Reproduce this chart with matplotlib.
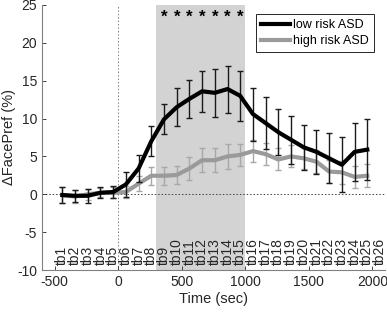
import numpy as np
import matplotlib.pyplot as plt
from matplotlib.lines import Line2D

plt.rcParams['font.family'] = ['Liberation Sans', 'DejaVu Sans']
plt.rcParams['axes.unicode_minus'] = False

# time bin centres (sec) and labels
bin_times = np.arange(-440, 2061, 100)
bin_labels = [f"tb{i}" for i in range(1, 27)]

# face preference change (%), bins tb1..tb25
low_risk = [-0.1, -0.2, -0.2, 0.2, 0.3, 1.3, 3.4, 7.0, 9.9, 11.5, 12.6, 13.6, 13.4, 13.9, 13.0,
            10.6, 9.4, 8.2, 7.2, 6.2, 5.6, 4.75, 3.9, 5.6, 5.9]
low_err = [1.0, 0.8, 0.9, 0.7, 0.8, 1.6, 1.8, 2.0, 2.0, 2.5, 2.5, 2.7, 3.2, 3.1, 3.3,
           3.5, 3.4, 3.0, 3.2, 3.0, 2.9, 3.3, 3.6, 3.8, 4.0]
high_risk = [-0.1, -0.3, 0.0, 0.2, 0.2, 0.3, 1.4, 2.45, 2.45, 2.55, 3.4, 4.5, 4.5, 5.0, 5.2,
             5.7, 5.3, 4.6, 5.0, 4.75, 4.3, 3.0, 2.9, 2.3, 2.45]
high_err = [1.0, 0.9, 0.7, 0.6, 0.7, 0.8, 1.0, 1.2, 1.2, 1.2, 1.5, 1.6, 1.6, 1.6, 1.5,
            1.45, 1.45, 1.45, 1.45, 1.4, 1.5, 1.5, 1.5, 1.5, 1.5]

# significant bins (tb9..tb15) and test window
sig_bins = [9, 10, 11, 12, 13, 14, 15]
window = (300, 1000)

n = len(low_risk)
t = bin_times[:n]

fig = plt.figure(figsize=(3.87, 3.12), dpi=100)
ax = fig.add_axes([0.1085, 0.1346, 0.8865, 0.8494])

ax.axvspan(window[0], window[1], color='#d3d3d3', lw=0, zorder=0)
ax.axhline(0, color='#404040', ls=(0, (1.5, 2)), lw=0.7, zorder=1)
ax.axvline(0, color='#808080', ls=(0, (1.5, 2)), lw=0.7, zorder=1)

ax.errorbar(t, high_risk, yerr=high_err, color='#9a9a9a', lw=3, ecolor='#a8a8a8',
            elinewidth=1, capsize=2, capthick=1, zorder=2)
ax.errorbar(t, low_risk, yerr=low_err, color='black', lw=3, ecolor='#1a1a1a',
            elinewidth=1, capsize=2, capthick=1, zorder=3)

for b in sig_bins:
    ax.text(bin_times[b - 1], 23.4, '*', ha='center', va='center', fontsize=12,
            fontweight='bold')

for x, lab in zip(bin_times, bin_labels):
    ax.text(x, -9.3, lab, rotation=90, ha='center', va='bottom', fontsize=10,
            color='#262626')

ax.set_xlim(-600, 2100)
ax.set_ylim(-10, 25)
ax.set_xticks([-500, 0, 500, 1000, 1500, 2000])
ax.set_yticks([-10, -5, 0, 5, 10, 15, 20, 25])
ax.tick_params(direction='in', length=3, labelsize=10, colors='#262626', width=0.6)
for s in ['top', 'right']:
    ax.spines[s].set_visible(False)
for s in ['left', 'bottom']:
    ax.spines[s].set_color('#808080')
    ax.spines[s].set_linewidth(0.8)

ax.set_xlabel('Time (sec)', fontsize=10.5, color='#262626', labelpad=2)
ax.set_ylabel('\u0394FacePref (%)', fontsize=10.5, color='#262626', labelpad=1)

handles = [Line2D([], [], color='black', lw=3),
           Line2D([], [], color='#9a9a9a', lw=3)]
leg = ax.legend(handles, ['low risk ASD', 'high risk ASD'], loc='upper right',
                bbox_to_anchor=(0.968, 0.965), fontsize=9, fancybox=False, framealpha=1,
                edgecolor='#262626', handlelength=2.3, borderpad=0.4, labelspacing=0.3,
                handletextpad=0.3, borderaxespad=0)
leg.get_frame().set_linewidth(0.7)

fig.savefig('out.png', dpi=100)
